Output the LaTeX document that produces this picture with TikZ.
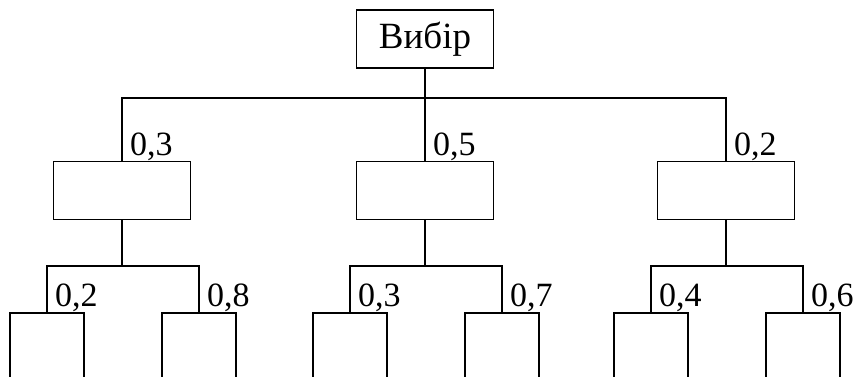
\documentclass[tikz,border=0pt]{standalone}
\usepackage{fontspec}
\setmainfont{Liberation Serif}

\newcommand{\topy}{337}
\newcommand{\busy}{278}
\newcommand{\midy}{185.5}
\newcommand{\subbusy}{110}
\newcommand{\leafy}{64}
\newcommand{\leftshift}{75}
\newcommand{\rightshift}{77}

\tikzset{
  blok/.style={draw, ultra thick, minimum width=137pt, minimum height=58pt, inner sep=0pt},
  leaf/.style={draw, ultra thick, minimum width=74pt, minimum height=90pt, anchor=north},
  prob/.style={anchor=south west, inner sep=0pt, xshift=8pt, font=\fontsize{34}{40}\selectfont},
}

\begin{document}
\begin{tikzpicture}[x=1pt, y=1pt]
  \useasboundingbox (0, 0) rectangle (859, 376);

  \node [blok, font=\fontsize{37}{42}\selectfont] (V) at (425, \topy) {Вибір};
  \node [blok] (A1) at (122, \midy) {};
  \node [blok] (A2) at (425, \midy) {};
  \node [blok] (A3) at (726, \midy) {};
  \coordinate (bus) at (425, \busy);

  \draw [ultra thick] (V) -- (A2);
  \draw [ultra thick] (A1.north) |- (bus) -| (A3.north);
  \node [prob] (p1) at (A1.north) {0,3};
  \node [prob] (p2) at (A2.north) {0,5};
  \node [prob] (p3) at (A3.north) {0,2};

  \coordinate (S1) at (122, \subbusy);
  \node [leaf] (L1) at (122 - \leftshift, \leafy) {};
  \node [leaf] (R1) at (122 + \rightshift, \leafy) {};
  \draw [ultra thick] (A1) -- (S1);
  \draw [ultra thick] (L1.north) |- (S1) -| (R1.north);
  \node [prob] (q1) at (L1.north) {0,2};
  \node [prob] (r1) at (R1.north) {0,8};

  \coordinate (S2) at (425, \subbusy);
  \node [leaf] (L2) at (425 - \leftshift, \leafy) {};
  \node [leaf] (R2) at (425 + \rightshift, \leafy) {};
  \draw [ultra thick] (A2) -- (S2);
  \draw [ultra thick] (L2.north) |- (S2) -| (R2.north);
  \node [prob] (q2) at (L2.north) {0,3};
  \node [prob] (r2) at (R2.north) {0,7};

  \coordinate (S3) at (726, \subbusy);
  \node [leaf] (L3) at (726 - \leftshift, \leafy) {};
  \node [leaf] (R3) at (726 + \rightshift, \leafy) {};
  \draw [ultra thick] (A3) -- (S3);
  \draw [ultra thick] (L3.north) |- (S3) -| (R3.north);
  \node [prob] (q3) at (L3.north) {0,4};
  \node [prob] (r3) at (R3.north) {0,6};
\end{tikzpicture}
\end{document}
